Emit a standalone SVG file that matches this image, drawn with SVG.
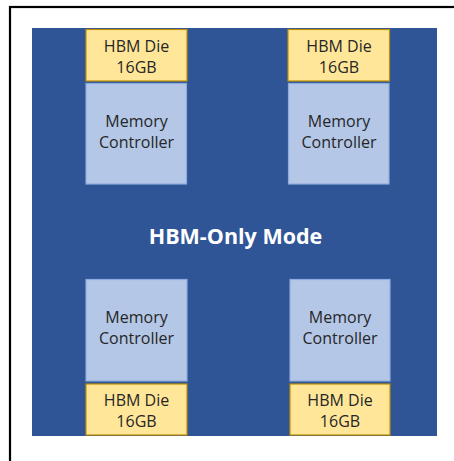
<svg xmlns="http://www.w3.org/2000/svg" width="454" height="461" viewBox="0 0 454 461">
  <style>
    .frame { fill: none; stroke: #000; stroke-width: 2.2; }
    .chip { fill: #2F5597; }
    .hbm { fill: #FFE699; stroke: #BF9000; stroke-width: 1.2; }
    .mc { fill: #B4C7E7; stroke: #8FAADC; stroke-width: 1.2; }
    .lbl { font-family: "Open Sans", "Liberation Sans", sans-serif; font-size: 16px; fill: #262626; text-anchor: middle; }
    .title { font-family: "Open Sans", "Liberation Sans", sans-serif; font-size: 21.5px; font-weight: bold; fill: #FFFFFF; text-anchor: middle; }
  </style>
  <rect x="0" y="0" width="454" height="461" fill="#FFFFFF"/>
  <rect class="frame" x="10" y="7" width="460" height="470"/>
  <rect class="chip" x="32" y="28" width="405" height="408"/>
  <text class="title" x="235.5" y="244">HBM-Only Mode</text>

  <g id="hbm-top-left">
    <rect class="hbm" x="86" y="29.5" width="101" height="51.5"/>
    <text class="lbl" x="136.5" y="52">HBM Die</text>
    <text class="lbl" x="136.5" y="73">16GB</text>
  </g>
  <g id="mc-top-left">
    <rect class="mc" x="86" y="83.5" width="100.5" height="100.5"/>
    <text class="lbl" x="136.5" y="127">Memory</text>
    <text class="lbl" x="136.5" y="148">Controller</text>
  </g>

  <g id="hbm-top-right">
    <rect class="hbm" x="288" y="29.5" width="101.5" height="51.5"/>
    <text class="lbl" x="339" y="52">HBM Die</text>
    <text class="lbl" x="339" y="73">16GB</text>
  </g>
  <g id="mc-top-right">
    <rect class="mc" x="288.5" y="83.5" width="100.5" height="100.5"/>
    <text class="lbl" x="339" y="127">Memory</text>
    <text class="lbl" x="339" y="148">Controller</text>
  </g>

  <g id="mc-bottom-left">
    <rect class="mc" x="86" y="279.5" width="101" height="101.5"/>
    <text class="lbl" x="136.5" y="323">Memory</text>
    <text class="lbl" x="136.5" y="344">Controller</text>
  </g>
  <g id="hbm-bottom-left">
    <rect class="hbm" x="86" y="384" width="101" height="51"/>
    <text class="lbl" x="136.5" y="406">HBM Die</text>
    <text class="lbl" x="136.5" y="427">16GB</text>
  </g>

  <g id="mc-bottom-right">
    <rect class="mc" x="290" y="279.5" width="100" height="101.5"/>
    <text class="lbl" x="340" y="323">Memory</text>
    <text class="lbl" x="340" y="344">Controller</text>
  </g>
  <g id="hbm-bottom-right">
    <rect class="hbm" x="290" y="384" width="100" height="51"/>
    <text class="lbl" x="340" y="406">HBM Die</text>
    <text class="lbl" x="340" y="427">16GB</text>
  </g>

  <g id="connectors"/>
</svg>
